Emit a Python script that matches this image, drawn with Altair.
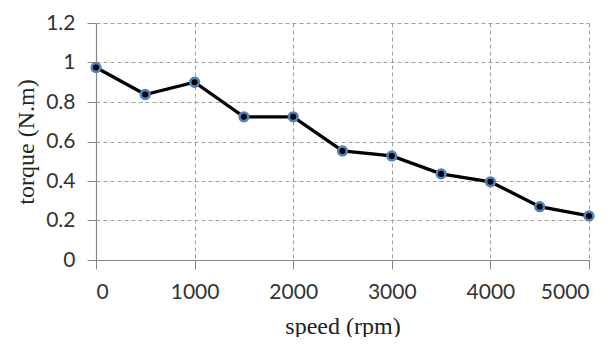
import altair as alt
import pandas as pd

speed = [0, 500, 1000, 1500, 2000, 2500, 3000, 3500, 4000, 4500, 5000]
torque = [0.975, 0.838, 0.90, 0.725, 0.725, 0.552, 0.527, 0.436, 0.396, 0.27, 0.223]

df = pd.DataFrame({"speed": speed, "torque": torque})

x = alt.X("speed:Q", title="speed (rpm)",
          scale=alt.Scale(domain=[0, 5000], nice=False),
          axis=alt.Axis(values=[0, 1000, 2000, 3000, 4000, 5000], format="d"))
y = alt.Y("torque:Q", title="torque (N.m)",
          scale=alt.Scale(domain=[0, 1.2], nice=False),
          axis=alt.Axis(values=[0, 0.2, 0.4, 0.6, 0.8, 1.0, 1.2], format=".1~f"))

line = alt.Chart(df).mark_line(color="black", strokeWidth=3.3).encode(x=x, y=y)
pts = alt.Chart(df).mark_point(filled=False, fill="black", fillOpacity=1,
                               stroke="#4f81bd", strokeWidth=2.6, size=75,
                               opacity=1).encode(x=x, y=y)

chart = (line + pts).properties(
    width=493, height=237,
    autosize=alt.AutoSizeParams(type="none"),
    padding={"left": 88, "top": 15, "right": 18, "bottom": 77},
).configure_view(stroke=None).configure_axis(
    domainColor="#868686", domainWidth=1.2,
    tickColor="#868686", tickSize=9,
    gridColor="#a0a0a0", gridDash=[4, 3], gridWidth=1,
    labelFont="Lato", labelFontSize=21, labelColor="#333333",
    titleFont="Liberation Serif", titleFontSize=24, titleFontWeight="normal",
    titleColor="#222222",
).configure_axisY(
    labelPadding=12, titlePadding=7,
).configure_axisX(
    labelPadding=12, titlePadding=12,
)

chart.save("out.html", embed_options={"renderer": "svg", "actions": False})
